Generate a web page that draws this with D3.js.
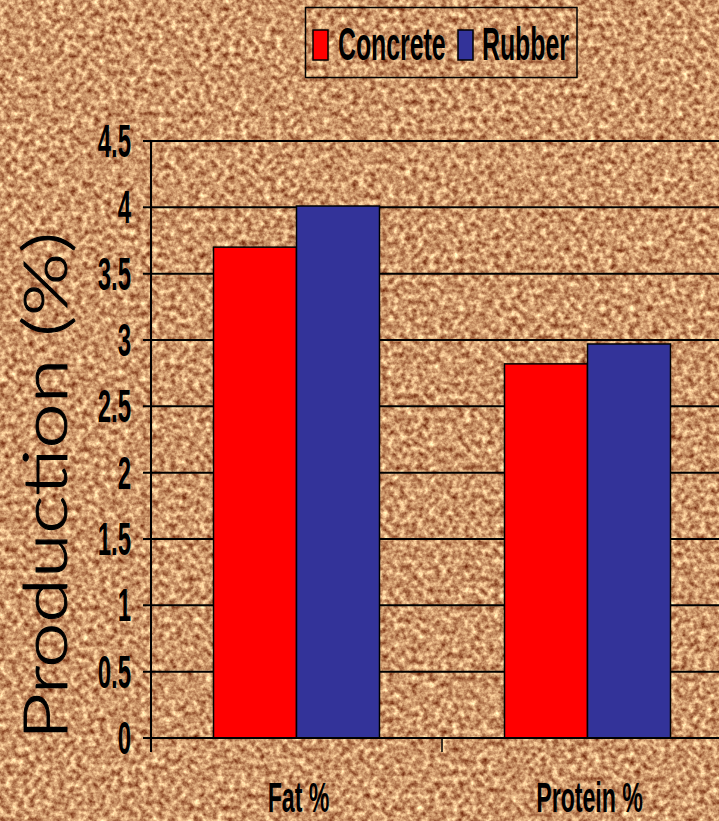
<!DOCTYPE html>
<html>
<head>
<meta charset="utf-8">
<script src="https://cdn.jsdelivr.net/npm/d3@7"></script>
<style>
  html, body { margin: 0; padding: 0; background: #cd9766; }
  svg { display: block; }
</style>
</head>
<body>
<script>
// Milk composition by flooring type
const categories = ["Fat %", "Protein %"];
const seriesNames = ["Concrete", "Rubber"];
const concreteValues = [3.70, 2.82];
const rubberValues = [4.01, 2.97];
const yTicks = [0, 0.5, 1, 1.5, 2, 2.5, 3, 3.5, 4, 4.5];
const seriesColors = ["#ff0000", "#333399"];

const W = 719, H = 821;
const svg = d3.select("body").append("svg").attr("width", W).attr("height", H);

// Cork board texture
const defs = svg.append("defs");
const f = defs.append("filter").attr("id", "cork")
  .attr("x", 0).attr("y", 0).attr("width", W).attr("height", H)
  .attr("filterUnits", "userSpaceOnUse")
  .attr("color-interpolation-filters", "sRGB");
f.append("feTurbulence").attr("type", "fractalNoise")
  .attr("baseFrequency", "0.17").attr("numOctaves", 3).attr("seed", 7).attr("result", "n");
f.append("feColorMatrix").attr("in", "n").attr("type", "matrix")
  .attr("values", "0.9 0 0 0 0.35  1.1 0 0 0 0.04  0.95 0 0 0 -0.06  0 0 0 0 1");
svg.append("rect").attr("width", W).attr("height", H).attr("filter", "url(#cork)");

// Scales
const y = d3.scaleLinear().domain([0, 4.5]).range([738, 141]);
const x0 = d3.scaleBand().domain(categories).range([151, 733]).paddingInner(0).paddingOuter(0);
const x1 = d3.scaleBand().domain(seriesNames).range([0, x0.bandwidth()]).paddingInner(0).paddingOuter(0.753);

const narrow = 0.52;
const boldFont = "'Liberation Sans', Arial, sans-serif";

// Gridlines
svg.append("g").selectAll("line").data(yTicks).join("line")
  .attr("x1", 143).attr("x2", W)
  .attr("y1", d => y(d)).attr("y2", d => y(d))
  .attr("stroke", "#000").attr("stroke-width", 2);

// Bars
const rows = categories.map((c, i) => ({ cat: c, vals: [concreteValues[i], rubberValues[i]] }));
const cg = svg.append("g").selectAll("g").data(rows).join("g")
  .attr("transform", d => `translate(${x0(d.cat)},0)`);
cg.selectAll("rect").data(d => d.vals.map((v, j) => ({ s: seriesNames[j], v, j })))
  .join("rect")
  .attr("x", d => x1(d.s))
  .attr("width", x1.bandwidth())
  .attr("y", d => y(d.v))
  .attr("height", d => y(0) - y(d.v))
  .attr("fill", d => seriesColors[d.j])
  .attr("stroke", "#000").attr("stroke-width", 1.5);

// Axes lines
svg.append("line").attr("x1", 151).attr("x2", 151).attr("y1", y(4.5)).attr("y2", 752)
  .attr("stroke", "#000").attr("stroke-width", 2);
svg.append("line").attr("x1", 143).attr("x2", W).attr("y1", y(0)).attr("y2", y(0))
  .attr("stroke", "#000").attr("stroke-width", 2);
// Category separators
const seps = categories.map(c => x0(c) + x0.bandwidth());
svg.append("g").selectAll("line").data(seps).join("line")
  .attr("x1", d => d).attr("x2", d => d).attr("y1", y(0)).attr("y2", 752)
  .attr("stroke", "#000").attr("stroke-width", 1.5);

// Y tick labels
svg.append("g").selectAll("g").data(yTicks).join("g")
  .attr("transform", d => `translate(131,${y(d) + 16}) scale(${narrow},1)`)
  .append("text")
  .attr("text-anchor", "end")
  .attr("font-family", boldFont).attr("font-weight", "bold").attr("font-size", 46)
  .attr("fill", "#000")
  .text(d => d);

// Category labels
svg.append("g").selectAll("g").data(categories).join("g")
  .attr("transform", d => `translate(${x0(d) + x0.bandwidth() / 2 + 2},812) scale(0.55,1)`)
  .append("text")
  .attr("text-anchor", "middle")
  .attr("font-family", boldFont).attr("font-weight", "bold").attr("font-size", 42)
  .attr("fill", "#000")
  .text(d => d);

// Y axis title
svg.append("text")
  .attr("transform", "translate(67,486) rotate(-90)")
  .attr("text-anchor", "middle")
  .attr("font-family", "Lato, 'Open Sans', sans-serif")
  .attr("font-weight", 300)
  .attr("font-size", 62)
  .attr("textLength", 508).attr("lengthAdjust", "spacingAndGlyphs")
  .attr("fill", "#000")
  .attr("stroke", "#000").attr("stroke-width", 0.9)
  .text("Production (%)");

// Legend
const lg = svg.append("g");
lg.append("rect").attr("x", 305.5).attr("y", 7.5).attr("width", 271.5).attr("height", 70)
  .attr("fill", "none").attr("stroke", "#000").attr("stroke-width", 1.5);
const legendItems = [
  { name: seriesNames[0], color: seriesColors[0], sx: 313, tx: 338 },
  { name: seriesNames[1], color: seriesColors[1], sx: 458, tx: 482 }
];
legendItems.forEach(it => {
  lg.append("rect").attr("x", it.sx).attr("y", 30).attr("width", 15).attr("height", 30)
    .attr("fill", it.color).attr("stroke", "#000").attr("stroke-width", 1.5);
  lg.append("g").attr("transform", `translate(${it.tx},60) scale(0.54,1)`)
    .append("text")
    .attr("font-family", boldFont).attr("font-weight", "bold").attr("font-size", 46)
    .attr("fill", "#000").text(it.name);
});
</script>
</body>
</html>
